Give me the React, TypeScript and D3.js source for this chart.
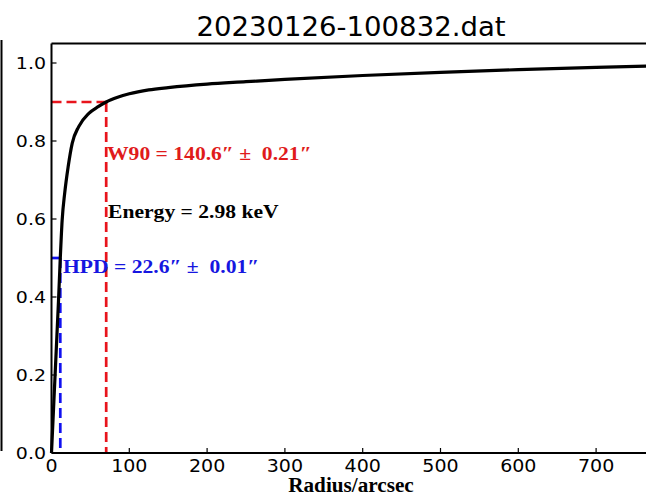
import React from "react";
import * as d3 from "d3";

const radius = [0, 3, 6, 9, 11.3, 13.7, 17, 21.4, 26.6, 35, 48, 60, 70.3, 85, 100, 125, 150, 200, 250, 300, 400, 500, 600, 700, 800];
const encircled = [0, 0.13, 0.26, 0.39, 0.5, 0.597, 0.667, 0.734, 0.794, 0.837, 0.871, 0.888, 0.9, 0.912, 0.921, 0.931, 0.937, 0.946, 0.952, 0.958, 0.968, 0.976, 0.983, 0.989, 0.994];
const xTicks = [0, 100, 200, 300, 400, 500, 600, 700];
const yTicks = [0, 0.2, 0.4, 0.6, 0.8, 1.0];
const hpdRadius = 11.3;
const w90Radius = 70.3;
const title = "20230126-100832.dat";
const xLabel = "Radius/arcsec";
const w90Text = "W90 = 140.6″ ±  0.21″";
const energyText = "Energy = 2.98 keV";
const hpdText = "HPD = 22.6″ ±  0.01″";

export default function App() {
  const W = 646, H = 495;
  const x = d3.scaleLinear().domain([0, 800]).range([51.5, 51.5 + 622.4]);
  const y = d3.scaleLinear().domain([0, 1.05]).range([453, 43.5]);
  const pts = radius.map((r, i) => [r, encircled[i]] as [number, number]);
  const line = d3.line<[number, number]>().x(d => x(d[0])).y(d => y(d[1])).curve(d3.curveMonotoneX);
  const tickFont = "DejaVu Sans, sans-serif";
  const serif = "Liberation Serif, Times New Roman, serif";
  const pre = { whiteSpace: "pre" as const };
  return (
    <svg width={W} height={H} style={{ position: "absolute", left: 0, top: 0, background: "#fff" }}>
      <rect x={0} y={0} width={W} height={H} fill="#fff" />
      <line x1={1.5} x2={1.5} y1={40} y2={451} stroke="#000" strokeWidth={2} />
      <text transform={`translate(351,36) scale(1.06,1)`} textAnchor="middle" fontFamily={tickFont} fontSize={26} fill="#000">{title}</text>
      <line x1={x(0)} x2={x(w90Radius)} y1={y(0.9)} y2={y(0.9)} stroke="#e8141c" strokeWidth={2.7} strokeDasharray="10,5" />
      <line x1={x(w90Radius)} x2={x(w90Radius)} y1={y(0.9)} y2={y(0)} stroke="#e8141c" strokeWidth={2.7} strokeDasharray="10,5" />
      <line x1={x(0)} x2={x(hpdRadius)} y1={y(0.5)} y2={y(0.5)} stroke="#1010f0" strokeWidth={2.7} strokeDasharray="10,5" />
      <line x1={x(hpdRadius)} x2={x(hpdRadius)} y1={y(0.5)} y2={y(0)} stroke="#1010f0" strokeWidth={2.7} strokeDasharray="10,5" />
      <path d={line(pts) || ""} fill="none" stroke="#000" strokeWidth={3.2} />
      <line x1={x(0)} x2={W} y1={y(0)} y2={y(0)} stroke="#000" strokeWidth={2} />
      <line x1={x(0)} x2={W} y1={43.5} y2={43.5} stroke="#000" strokeWidth={2} />
      <line x1={x(0)} x2={x(0)} y1={43.5} y2={y(0)} stroke="#000" strokeWidth={2} />
      {xTicks.map(t => (
        <g key={"x" + t}>
          <line x1={x(t)} x2={x(t)} y1={y(0)} y2={y(0) - 5} stroke="#000" strokeWidth={1.2} />
          <text transform={`translate(${x(t)},472) scale(1.12,1)`} textAnchor="middle" fontFamily={tickFont} fontSize={17} fill="#000">{t}</text>
        </g>
      ))}
      {yTicks.map(t => (
        <g key={"y" + t}>
          <line x1={x(0)} x2={x(0) + 5} y1={y(t)} y2={y(t)} stroke="#000" strokeWidth={1.2} />
          <text transform={`translate(46,${y(t) + 6}) scale(1.15,1)`} textAnchor="end" fontFamily={tickFont} fontSize={16.5} fill="#000">{t.toFixed(1)}</text>
        </g>
      ))}
      <text transform={`translate(107,160) scale(1.2,1)`} style={pre} fontFamily={serif} fontWeight="bold" fontSize={18} fill="#e01b1b">{w90Text}</text>
      <text transform={`translate(108,218) scale(1.2,1)`} style={pre} fontFamily={serif} fontWeight="bold" fontSize={18} fill="#000">{energyText}</text>
      <text transform={`translate(63,273) scale(1.2,1)`} style={pre} fontFamily={serif} fontWeight="bold" fontSize={18} fill="#1616e0">{hpdText}</text>
      <text transform={`translate(351,492) scale(1.06,1)`} textAnchor="middle" fontFamily={serif} fontWeight="bold" fontSize={20} fill="#000">{xLabel}</text>
    </svg>
  );
}
